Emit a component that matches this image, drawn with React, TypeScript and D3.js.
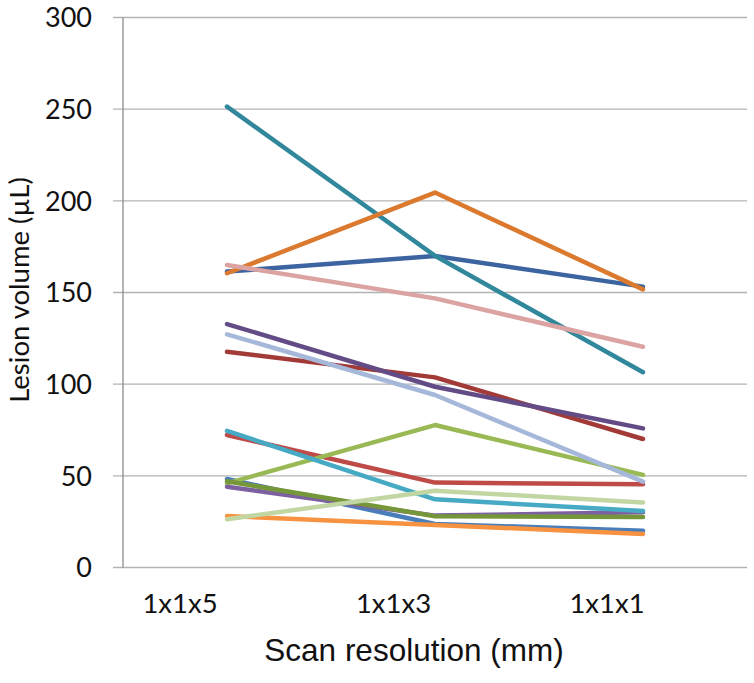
import React, { useEffect, useRef } from "react";
import * as d3 from "d3";

// scan resolutions on the x axis
const categories = ["1x1x5", "1x1x3", "1x1x1"];
const yTicks = [0, 50, 100, 150, 200, 250, 300];

// one line per lesion, values in µL (Excel series order)
const s1 = [48.3, 23.7, 20.1];
const s2 = [72.3, 46.3, 45.4];
const s3 = [45.9, 77.7, 50.5];
const s4 = [44.1, 28.3, 30.1];
const s5 = [74.5, 37.2, 30.8];
const s6 = [28.1, 23.2, 18.3];
const s7 = [161.4, 169.9, 153.2];
const s8 = [117.7, 103.7, 70.1];
const s9 = [47.0, 28.0, 27.5];
const s10 = [132.8, 98.6, 75.9];
const s11 = [251.4, 170.0, 106.5];
const s12 = [160.5, 204.5, 151.7];
const s13 = [127.2, 94.1, 46.8];
const s14 = [165.0, 146.8, 120.4];
const s15 = [26.3, 41.9, 35.4];

const series = [s1, s2, s3, s4, s5, s6, s7, s8, s9, s10, s11, s12, s13, s14, s15];
const colors = [
  "#4a7ebb", "#be4b48", "#98b954", "#7d60a0", "#46aac5", "#f69240",
  "#3b64a0", "#a23b37", "#76963a", "#634c86", "#31879b", "#db7a2e",
  "#a5b8d9", "#dba4a3", "#c2d6a4",
];

const W = 754,
  H = 683;
const margin = { top: 17.5, right: 7, bottom: 115.5, left: 123 };

const drawChart = (node: SVGSVGElement) => {
  const svg = d3.select(node);
  svg.selectAll("*").remove();

  const width = W - margin.left - margin.right;
  const height = H - margin.top - margin.bottom;

  const x = d3.scaleBand().domain(categories).range([0, width]);
  const y = d3.scaleLinear().domain([0, 300]).range([height, 0]);
  // category labels sit a bit left of the data points in the original
  const xLabel = d3.scalePoint().domain(categories).range([57, 484]);

  const g = svg
    .append("g")
    .attr("transform", `translate(${margin.left}, ${margin.top})`);

  // gridlines + ticks
  g.append("g")
    .selectAll("line")
    .data(yTicks)
    .join("line")
    .attr("x1", -10)
    .attr("x2", width)
    .attr("y1", (d) => y(d))
    .attr("y2", (d) => y(d))
    .attr("stroke", "#b3b3b3")
    .attr("stroke-width", 1.3);

  g.append("line")
    .attr("x1", 0)
    .attr("x2", 0)
    .attr("y1", 0)
    .attr("y2", height)
    .attr("stroke", "#8c8c8c")
    .attr("stroke-width", 1.3);

  g.append("g")
    .selectAll("text")
    .data(yTicks)
    .join("text")
    .attr("x", -31)
    .attr("y", (d) => y(d))
    .attr("dy", "0.36em")
    .attr("text-anchor", "end")
    .attr("font-family", "Lato, 'Open Sans', sans-serif")
    .attr("font-size", 27)
    .attr("fill", "#111")
    .text((d) => d);

  g.append("g")
    .selectAll("text")
    .data(categories)
    .join("text")
    .attr("x", (d) => xLabel(d) as number)
    .attr("y", height + 45)
    .attr("text-anchor", "middle")
    .attr("font-family", "Lato, 'Open Sans', sans-serif")
    .attr("font-size", 27.5)
    .attr("fill", "#111")
    .text((d) => d);

  const line = d3
    .line<number>()
    .x((d, i) => (x(categories[i]) as number) + x.bandwidth() / 2)
    .y((d) => y(d));

  g.append("g")
    .selectAll("path")
    .data(series)
    .join("path")
    .attr("d", (d) => line(d))
    .attr("fill", "none")
    .attr("stroke", (d, i) => colors[i])
    .attr("stroke-width", 4.5)
    .attr("stroke-linecap", "round")
    .attr("stroke-linejoin", "round");

  // axis titles
  svg
    .append("text")
    .attr("x", 414)
    .attr("y", 661)
    .attr("text-anchor", "middle")
    .attr("font-family", "'Liberation Sans', Arial, sans-serif")
    .attr("font-size", 31.5)
    .attr("fill", "#111")
    .text("Scan resolution (mm)");

  svg
    .append("text")
    .attr("transform", "translate(29, 290) rotate(-90)")
    .attr("text-anchor", "middle")
    .attr("font-family", "Lato, 'Open Sans', sans-serif")
    .attr("font-size", 27.5)
    .attr("fill", "#111")
    .text("Lesion volume (µL)");
};

export default function App() {
  const ref = useRef<SVGSVGElement>(null);

  useEffect(() => {
    if (ref.current) drawChart(ref.current);
  }, []);

  return (
    <div style={{ position: "absolute", left: 0, top: 0 }}>
      <svg ref={ref} width={W} height={H} style={{ display: "block", background: "#fff" }} />
    </div>
  );
}
